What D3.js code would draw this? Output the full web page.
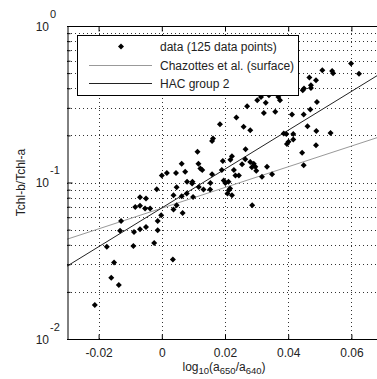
<!DOCTYPE html>
<html lang="en">
<head>
<meta charset="utf-8">
<script src="https://d3js.org/d3.v7.min.js"></script>
<style>
  body { margin: 0; background: #fff; }
  svg { display: block; font-family: 'Liberation Sans', Arial, Helvetica, sans-serif; }
</style>
</head>
<body>
<div id="chart"></div>
<script>
// tick values / labels
const xTicks = [-0.02, 0, 0.02, 0.04, 0.06];
const xTickLabels = ["-0.02", "0", "0.02", "0.04", "0.06"];
const yMajor = [0.01, 0.1, 1];
const yExponents = ["-2", "-1", "0"];
const yMinor = [0.02, 0.03, 0.04, 0.05, 0.06, 0.07, 0.08, 0.09,
                0.2, 0.3, 0.4, 0.5, 0.6, 0.7, 0.8, 0.9];

// measured points, log10(a650/a640) and Tchl-b/Tchl-a
const dataX = [
  -0.0212, -0.0160, -0.0136, -0.0151, -0.0174, -0.0090, -0.0024, -0.0132, -0.0088, -0.0069,
  -0.0050, -0.0013, -0.0129, -0.0013, -0.0084, -0.0069, -0.0053, -0.0037, -0.0069, -0.0050,
  -0.0016, -0.0002, 0.0035, 0.0037, 0.0047, 0.0066, 0.0037, 0.0063, 0.0000, 0.0016,
  0.0045, 0.0063, 0.0047, 0.0080, 0.0096, 0.0117, 0.0099, 0.0079, 0.0113, 0.0116,
  0.0122, 0.0128, 0.0074, 0.0132, 0.0153, 0.0097, 0.0159, 0.0193, 0.0222, 0.0217,
  0.0190, 0.0254, 0.0264, 0.0280, 0.0291, 0.0296, 0.0285, 0.0299, 0.0228, 0.0233,
  0.0244, 0.0196, 0.0201, 0.0154, 0.0211, 0.0216, 0.0212, 0.0208, 0.0222, 0.0286,
  0.0265, 0.0317, 0.0349, 0.0333, 0.0159, 0.0162, 0.0184, 0.0236, 0.0259, 0.0280,
  0.0270, 0.0302, 0.0314, 0.0329, 0.0339, 0.0323, 0.0359, 0.0364, 0.0369, 0.0374,
  0.0412, 0.0449, 0.0470, 0.0491, 0.0446, 0.0450, 0.0472, 0.0472, 0.0467, 0.0488,
  0.0508, 0.0539, 0.0542, 0.0599, 0.0624, 0.0386, 0.0394, 0.0416, 0.0461, 0.0489,
  0.0534, 0.0401, 0.0396, 0.0416, 0.0488, 0.0444, 0.0449
];
const dataY = [
  0.0165, 0.0246, 0.0221, 0.0308, 0.0388, 0.0393, 0.0411, 0.0491, 0.0483, 0.0503,
  0.0520, 0.0496, 0.0568, 0.0568, 0.0698, 0.0709, 0.0682, 0.0682, 0.0805, 0.0790,
  0.0906, 0.0618, 0.0322, 0.0672, 0.0716, 0.0639, 0.0830, 0.0818, 0.111, 0.115,
  0.115, 0.132, 0.0933, 0.101, 0.0985, 0.0937, 0.0809, 0.0851, 0.157, 0.132,
  0.123, 0.120, 0.117, 0.0902, 0.0902, 0.101, 0.113, 0.137, 0.147, 0.140,
  0.120, 0.131, 0.141, 0.135, 0.132, 0.126, 0.125, 0.119, 0.120, 0.111,
  0.111, 0.103, 0.0994, 0.0994, 0.101, 0.0915, 0.0893, 0.0851, 0.0830, 0.0716,
  0.163, 0.109, 0.113, 0.126, 0.184, 0.191, 0.236, 0.260, 0.227, 0.216,
  0.307, 0.336, 0.352, 0.323, 0.361, 0.278, 0.283, 0.370, 0.352, 0.336,
  0.272, 0.272, 0.293, 0.327, 0.389, 0.399, 0.418, 0.402, 0.469, 0.450,
  0.522, 0.516, 0.499, 0.576, 0.496, 0.206, 0.204, 0.204, 0.229, 0.213,
  0.207, 0.182, 0.176, 0.188, 0.173, 0.155, 0.129
];

// fitted lines (end points)
const chazX = [-0.03, 0.07];
const chazY = [0.0434, 0.199];
const hacX = [-0.03, 0.07];
const hacY = [0.0292, 0.508];

const legendLabels = ["data (125 data points)", "Chazottes et al. (surface)", "HAC group 2"];

const W = 377, H = 379;
const pLeft = 67, pTop = 26, pRight = 383, pBottom = 339;

const svg = d3.select("#chart").append("svg")
  .attr("width", W)
  .attr("height", H);

svg.append("rect").attr("width", W).attr("height", H).attr("fill", "#fff");

const x = d3.scaleLinear().domain([-0.03, 0.07]).range([pLeft, pRight]);
const y = d3.scaleLog().domain([0.01, 1]).range([pBottom, pTop]);

svg.append("defs").append("clipPath").attr("id", "plotclip")
  .append("rect")
  .attr("x", pLeft).attr("y", pTop)
  .attr("width", pRight - pLeft).attr("height", pBottom - pTop);

// grid
const grid = svg.append("g")
  .attr("stroke", "#333")
  .attr("stroke-width", 1)
  .attr("stroke-dasharray", "1,3");

grid.selectAll(".gx").data(xTicks).enter().append("line")
  .attr("x1", d => Math.round(x(d)) + 0.5).attr("x2", d => Math.round(x(d)) + 0.5)
  .attr("y1", pTop).attr("y2", pBottom);

grid.selectAll(".gy").data(yMajor.concat(yMinor)).enter().append("line")
  .attr("x1", pLeft).attr("x2", pRight)
  .attr("y1", d => Math.round(y(d)) + 0.5).attr("y2", d => Math.round(y(d)) + 0.5);

// fit lines + points
const plot = svg.append("g").attr("clip-path", "url(#plotclip)");

const line = d3.line().x(d => x(d[0])).y(d => y(d[1]));

plot.append("path")
  .datum(d3.zip(chazX, chazY))
  .attr("fill", "none")
  .attr("stroke", "#999")
  .attr("stroke-width", 1)
  .attr("d", line);

plot.append("path")
  .datum(d3.zip(hacX, hacY))
  .attr("fill", "none")
  .attr("stroke", "#222")
  .attr("stroke-width", 1)
  .attr("d", line);

const diamond = "M0,-3L3,0L0,3L-3,0Z";

plot.selectAll(".pt").data(d3.zip(dataX, dataY)).enter().append("path")
  .attr("d", diamond)
  .attr("transform", d => `translate(${x(d[0])},${y(d[1])})`)
  .attr("fill", "#000");

// axes (ticks inside, MATLAB-style box)
const axisFont = 12;

const xb = svg.append("g")
  .attr("transform", `translate(0,${pBottom + 0.5})`)
  .call(d3.axisBottom(x).tickValues(xTicks)
    .tickFormat((d, i) => xTickLabels[i])
    .tickSizeInner(-5).tickSizeOuter(0).tickPadding(9));
xb.select(".domain").attr("d", `M${pLeft},0H${W}`);

const xt = svg.append("g")
  .attr("transform", `translate(0,${pTop + 0.5})`)
  .call(d3.axisTop(x).tickValues(xTicks).tickFormat("")
    .tickSizeInner(-5).tickSizeOuter(0));
xt.select(".domain").attr("d", `M${pLeft},0H${W}`);

svg.append("g")
  .attr("transform", `translate(${pLeft + 0.5},0)`)
  .call(d3.axisLeft(y).tickValues(yMajor).tickFormat("")
    .tickSizeInner(-5).tickSizeOuter(0));

svg.append("g")
  .attr("transform", `translate(${pLeft + 0.5},0)`)
  .call(d3.axisLeft(y).tickValues(yMinor).tickFormat("")
    .tickSizeInner(-3).tickSizeOuter(0))
  .select(".domain").remove();

svg.selectAll(".domain").attr("stroke", "#000");
svg.selectAll(".tick line").attr("stroke", "#000");
svg.selectAll(".tick text")
  .attr("font-size", axisFont)
  .attr("font-family", "'Liberation Sans', Arial, sans-serif")
  .attr("fill", "#222");

// y tick labels: 10^n
const ylab = svg.append("g").attr("fill", "#222");
yMajor.forEach((v, i) => {
  ylab.append("text")
    .attr("x", 49).attr("y", y(v) + 4.5)
    .attr("text-anchor", "end")
    .attr("font-size", axisFont)
    .text("10");
  ylab.append("text")
    .attr("x", 50).attr("y", y(v) - 8.5)
    .attr("font-size", 11)
    .text(yExponents[i]);
});

// axis titles
svg.append("text")
  .attr("transform", `translate(25,${(pTop + pBottom) / 2}) rotate(-90)`)
  .attr("text-anchor", "middle")
  .attr("font-size", 12)
  .attr("fill", "#222")
  .text("Tchl-b/Tchl-a");

const xl = svg.append("text")
  .attr("x", 224).attr("y", 371)
  .attr("text-anchor", "middle")
  .attr("font-size", 12)
  .attr("fill", "#222");
xl.append("tspan").text("log");
xl.append("tspan").attr("font-size", 9.5).attr("dy", 3).text("10");
xl.append("tspan").attr("dy", -3).text("(a");
xl.append("tspan").attr("font-size", 9.5).attr("dy", 3).text("650");
xl.append("tspan").attr("dy", -3).text("/a");
xl.append("tspan").attr("font-size", 9.5).attr("dy", 3).text("640");
xl.append("tspan").attr("dy", -3).text(")");

// legend
const lg = svg.append("g");
lg.append("rect")
  .attr("x", 77.5).attr("y", 35.5)
  .attr("width", 221).attr("height", 60)
  .attr("fill", "#fff").attr("stroke", "#000");

const rowY = [46.5, 65.5, 83.5];
lg.append("path").attr("d", diamond)
  .attr("transform", `translate(121,${rowY[0]})`).attr("fill", "#000");
lg.append("line").attr("x1", 89).attr("x2", 152)
  .attr("y1", rowY[1]).attr("y2", rowY[1])
  .attr("stroke", "#999");
lg.append("line").attr("x1", 89).attr("x2", 152)
  .attr("y1", rowY[2]).attr("y2", rowY[2])
  .attr("stroke", "#222");
legendLabels.forEach((s, i) => {
  lg.append("text")
    .attr("x", 160).attr("y", rowY[i] + 4.3)
    .attr("font-size", 12)
    .attr("fill", "#222")
    .text(s);
});
</script>
</body>
</html>
